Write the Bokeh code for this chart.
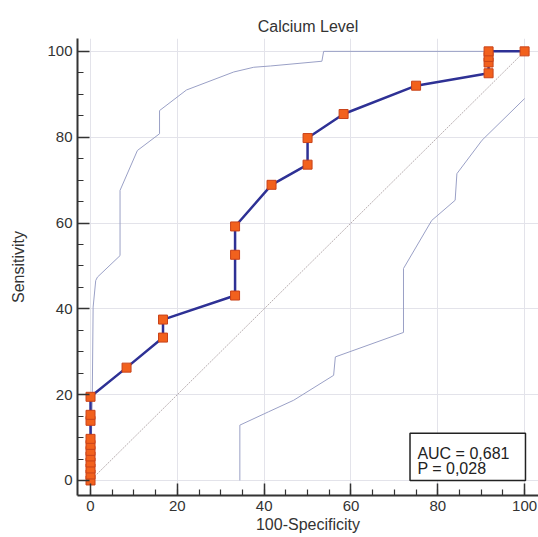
from bokeh.plotting import figure
from bokeh.models import FixedTicker, BoxAnnotation, Label, Range1d
from bokeh.embed import file_html
from bokeh.resources import INLINE

# ROC curve points: x = 100-Specificity, y = Sensitivity
roc_x = [0, 0, 0, 0, 0, 0, 0, 0, 0, 0, 0, 8.3, 16.7, 16.7, 33.3, 33.3, 33.3,
         41.7, 50, 50, 58.3, 75, 91.7, 91.7, 91.7, 91.7, 100]
roc_y = [0, 1.4, 2.8, 4.2, 5.6, 6.9, 8.3, 9.7, 13.9, 15.3, 19.5, 26.3, 33.3, 37.5, 43.1, 52.6, 59.2,
         68.9, 73.6, 79.8, 85.4, 92.0, 94.9, 97.4, 98.7, 100, 100]

# 95% confidence bounds
upper_x = [0, 0.4, 0.6, 1.2, 1.6, 6.8, 6.8, 10.8, 15.9, 15.9, 22.1, 33.0, 37.6, 41.5, 53.3, 53.7, 100]
upper_y = [0, 19.4, 40.4, 46.6, 47.4, 52.4, 67.6, 76.9, 80.8, 86.2, 91.0, 95.2, 96.3, 96.6, 97.7, 100, 100]
lower_x = [34.4, 34.4, 41.0, 46.8, 56.0, 56.4, 72.1, 72.1, 78.6, 84.0, 84.4, 90.2, 100]
lower_y = [0, 12.9, 16.0, 18.7, 24.5, 28.8, 34.5, 49.4, 60.6, 65.3, 71.5, 79.3, 89.0]

# reference diagonal
diag_x = [0, 100]
diag_y = [0, 100]

major_ticks = [0, 20, 40, 60, 80, 100]
minor_ticks = list(range(0, 101, 5))

auc_text = "AUC = 0,681"
p_text = "P = 0,028"

FONT = "Liberation Sans"
TXT = "#333333"

p = figure(width=538, height=537, x_range=Range1d(-3, 103.2), y_range=Range1d(-3.5, 103),
           output_backend="svg", toolbar_location=None, title="Calcium Level",
           min_border_left=77, min_border_right=0, min_border_top=38, min_border_bottom=42)
p.outline_line_color = None
p.background_fill_color = "white"

p.title.align = "center"
p.title.text_font = FONT
p.title.text_font_size = "16px"
p.title.text_font_style = "normal"
p.title.text_color = TXT
p.title.standoff = 8

for ax in (p.xaxis[0], p.yaxis[0]):
    ax.ticker = FixedTicker(ticks=major_ticks, minor_ticks=minor_ticks)
    ax.axis_line_width = 2
    ax.axis_line_color = "#333333"
    ax.major_tick_in = 12
    ax.major_tick_out = 0
    ax.minor_tick_in = 6
    ax.minor_tick_out = 0
    ax.major_tick_line_color = "#333333"
    ax.major_tick_line_width = 1.5
    ax.minor_tick_line_color = "#333333"
    ax.minor_tick_line_width = 1.2
    ax.major_label_text_font = FONT
    ax.major_label_text_font_size = "15px"
    ax.major_label_text_color = TXT
    ax.major_label_standoff = 5
    ax.axis_label_text_font = FONT
    ax.axis_label_text_font_size = "16px"
    ax.axis_label_text_font_style = "normal"
    ax.axis_label_text_color = TXT

p.xaxis.axis_label = "100-Specificity"
p.yaxis.axis_label = "Sensitivity"
p.xaxis.axis_label_standoff = 2
p.yaxis.axis_label_standoff = 17

p.grid.grid_line_color = "#e3e3ea"
p.grid.grid_line_width = 1

# diagonal and confidence bands
p.line(diag_x, diag_y, line_color="#b8aeb0", line_width=1, line_dash="2 1")
p.line(upper_x, upper_y, line_color="#9aa0c6", line_width=1)
p.line(lower_x, lower_y, line_color="#9aa0c6", line_width=1)

# ROC curve
p.line(roc_x, roc_y, line_color="#2e3195", line_width=2.5)
p.scatter(roc_x, roc_y, marker="square", size=9, fill_color="#f2611d",
          line_color="#c9431a", line_width=1)

# AUC box
box = BoxAnnotation(left=73.6, right=100.2, bottom=0, top=11, fill_color="white",
                    fill_alpha=1, line_color="#222222", line_width=1.5, line_alpha=1)
p.add_layout(box)
p.add_layout(Label(x=75.3, y=6.4, text=auc_text, text_font=FONT, text_font_size="16px",
                   text_color="#222222", text_baseline="alphabetic"))
p.add_layout(Label(x=75.3, y=2.8, text=p_text, text_font=FONT, text_font_size="16px",
                   text_color="#222222", text_baseline="alphabetic"))

open("out.html", "w").write(file_html(p, INLINE))
